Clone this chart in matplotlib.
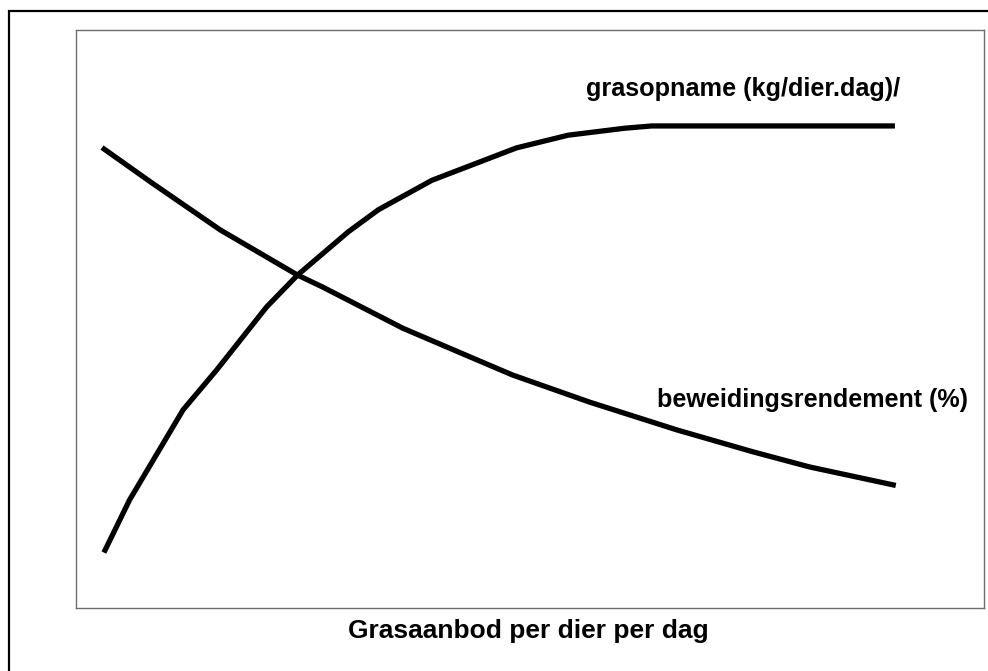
import matplotlib
matplotlib.use("Agg")
from matplotlib import pyplot as plt
from matplotlib.patches import Rectangle

plt.rcParams['font.family'] = ['Liberation Sans', 'DejaVu Sans']

# grass intake (kg/animal/day), relative scale 0-100
opname_x = [3.2, 5.9, 11.8, 15.5, 21.0, 24.4, 30.0, 33.3, 39.2, 48.5, 54.2, 60.4, 63.4, 89.9]
opname_y = [10.0, 18.7, 34.3, 41.2, 52.1, 57.6, 65.1, 68.9, 74.0, 79.6, 81.8, 83.0, 83.4, 83.4]

# grazing efficiency (%), relative scale 0-100
rendement_x = [3.1, 8.4, 15.9, 24.4, 27.2, 36.0, 44.2, 48.1, 56.6, 66.2, 74.6, 80.8, 90.0]
rendement_y = [79.4, 73.5, 65.4, 57.6, 55.5, 48.4, 42.9, 40.3, 35.6, 30.8, 27.0, 24.4, 21.3]

W, H = 988, 671
fig = plt.figure(figsize=(W / 100, H / 100), dpi=100)
fig.patch.set_facecolor('white')

# outer chart border (cut off at right and bottom)
fig.add_artist(Rectangle((8.5 / W, -0.1), 1.2, 1 - 10.5 / H + 0.1,
                         transform=fig.transFigure, fill=False,
                         edgecolor='black', linewidth=1.6, clip_on=False))

ax = fig.add_axes([76 / W, (H - 608) / H, 908 / W, 578 / H])
ax.plot(opname_x, opname_y, color='black', linewidth=3.8, solid_joinstyle='miter')
ax.plot(rendement_x, rendement_y, color='black', linewidth=3.8, solid_joinstyle='miter')
ax.set_xlim(0, 100)
ax.set_ylim(0, 100)
ax.set_xticks([])
ax.set_yticks([])
for sp in ax.spines.values():
    sp.set_color('#6e6e6e')
    sp.set_linewidth(1.0)

ax.text(56.2, 89.8, "grasopname (kg/dier.dag)/", fontsize=18.2, fontweight='bold',
        ha='left', va='center')
ax.text(64.0, 36.0, "beweidingsrendement (%)", fontsize=18.1, fontweight='bold',
        ha='left', va='center')
fig.text(528.5 / W, 1 - 631 / H, "Grasaanbod per dier per dag", fontsize=19,
         fontweight='bold', ha='center', va='center')

fig.savefig("out.png", dpi=100)
